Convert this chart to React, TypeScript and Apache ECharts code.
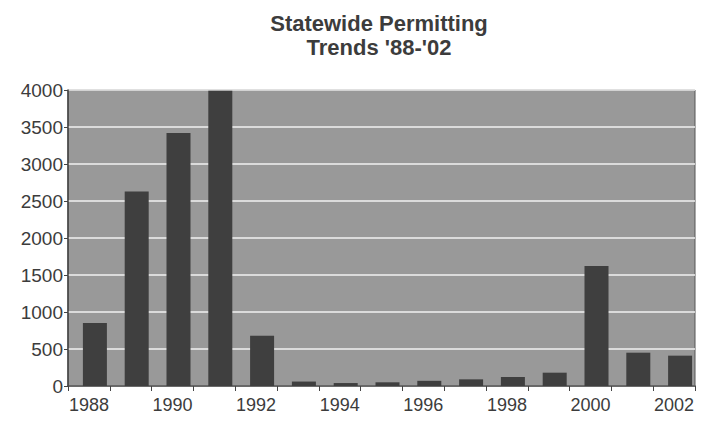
import React, { useEffect, useRef } from "react";
import * as echarts from "echarts";

const titleLines = ["Statewide Permitting", "Trends '88-'02"];
const years = ["1988", "1989", "1990", "1991", "1992", "1993", "1994", "1995", "1996", "1997", "1998", "1999", "2000", "2001", "2002"];
const permits = [850, 2630, 3420, 3990, 680, 60, 40, 50, 70, 90, 120, 180, 1620, 450, 410];
const yTicks = { min: 0, max: 4000, interval: 500 };

export default function App() {
  const ref = useRef<HTMLDivElement>(null);
  useEffect(() => {
    if (!ref.current) return;
    const chart = echarts.init(ref.current, undefined, { renderer: "svg" });
    chart.setOption({
      animation: false,
      backgroundColor: "#ffffff",
      title: {
        text: titleLines.join("\n"),
        left: 374,
        top: 6,
        textAlign: "center",
        textStyle: {
          fontFamily: "Liberation Sans, Arial, sans-serif",
          fontWeight: "bold",
          fontSize: 22,
          lineHeight: 24,
          color: "#3c3c3c",
        },
      },
      grid: {
        left: 68,
        right: 6,
        top: 90,
        bottom: 35,
        show: true,
        backgroundColor: "#999999",
        borderColor: "#555",
        borderWidth: 1,
      },
      xAxis: {
        type: "category",
        data: years,
        boundaryGap: true,
        axisLine: { show: true, lineStyle: { color: "#444", width: 1.5 } },
        axisTick: { show: true, interval: 0, length: 5, lineStyle: { color: "#444" } },
        axisLabel: {
          interval: 1,
          margin: 10,
          fontFamily: "Liberation Sans, Arial, sans-serif",
          fontSize: 18,
          color: "#3c3c3c",
        },
      },
      yAxis: {
        type: "value",
        min: yTicks.min,
        max: yTicks.max,
        interval: yTicks.interval,
        axisLine: { show: true, lineStyle: { color: "#444", width: 1.5 } },
        axisTick: { show: true, length: 4, lineStyle: { color: "#444" } },
        splitLine: { show: true, lineStyle: { color: "#f2f2f2", width: 1.5 } },
        axisLabel: {
          margin: 5,
          formatter: (v: number) => String(v),
          fontFamily: "Liberation Sans, Arial, sans-serif",
          fontSize: 19,
          color: "#3c3c3c",
        },
      },
      series: [
        {
          name: "spacer",
          type: "bar",
          data: [],
          barWidth: 24,
          barGap: "-50%",
          silent: true,
          itemStyle: { color: "transparent" },
        },
        {
          name: "Permits",
          type: "bar",
          data: permits,
          barWidth: 24,
          barGap: "-50%",
          itemStyle: { color: "#3f3f3f" },
        },
      ],
    });
    return () => chart.dispose();
  }, []);
  return (
    <div
      ref={ref}
      style={{ position: "fixed", left: 0, top: 0, width: 701, height: 421 }}
    />
  );
}
